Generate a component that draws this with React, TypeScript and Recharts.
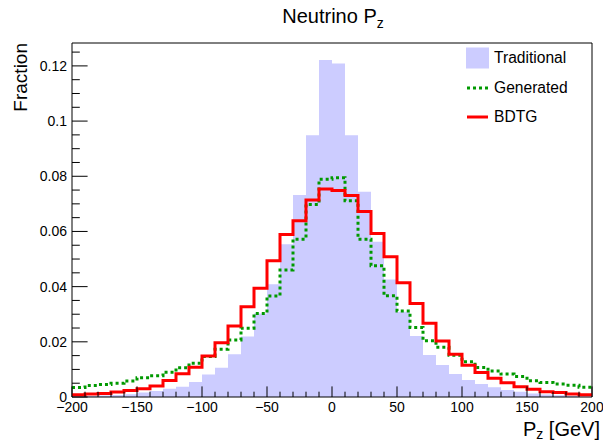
import { ComposedChart, Area, Line, XAxis, YAxis, ReferenceArea, Legend, Label } from 'recharts';

const FONT = '"Liberation Sans", Arial, Helvetica, sans-serif';

// lower bin edges, plus the upper edge of the last bin
const binEdges = [
  -200, -190, -180, -170, -160, -150, -140, -130, -120, -110,
  -100, -90, -80, -70, -60, -50, -40, -30, -20, -10,
  0, 10, 20, 30, 40, 50, 60, 70, 80, 90,
  100, 110, 120, 130, 140, 150, 160, 170, 180, 190, 200,
];

const traditional = [
  0.0003, 0.0004, 0.0005, 0.0007, 0.0010, 0.0016, 0.0022, 0.0030, 0.0037, 0.0054,
  0.0082, 0.0106, 0.0155, 0.0219, 0.0303, 0.0409, 0.0554, 0.0732, 0.0949, 0.1221,
  0.1209, 0.0949, 0.0744, 0.0563, 0.0426, 0.0309, 0.0221, 0.0152, 0.0116, 0.0083,
  0.0062, 0.0047, 0.0035, 0.0025, 0.0019, 0.0013, 0.0009, 0.0006, 0.0004, 0.0003,
];

const generated = [
  0.0034, 0.0042, 0.0045, 0.0050, 0.0058, 0.0070, 0.0077, 0.0090, 0.0106, 0.0122,
  0.0147, 0.0173, 0.0207, 0.0249, 0.0303, 0.0366, 0.0460, 0.0572, 0.0698, 0.0789,
  0.0795, 0.0711, 0.0572, 0.0476, 0.0367, 0.0312, 0.0252, 0.0204, 0.0180, 0.0151,
  0.0128, 0.0107, 0.0094, 0.0083, 0.0074, 0.0059, 0.0053, 0.0047, 0.0043, 0.0035,
];

const bdtg = [
  0.0008, 0.0011, 0.0013, 0.0018, 0.0024, 0.0030, 0.0040, 0.0060, 0.0084, 0.0108,
  0.0149, 0.0197, 0.0257, 0.0327, 0.0394, 0.0494, 0.0589, 0.0639, 0.0714, 0.0754,
  0.0748, 0.0730, 0.0672, 0.0593, 0.0508, 0.0414, 0.0339, 0.0267, 0.0203, 0.0155,
  0.0115, 0.0089, 0.0068, 0.0052, 0.0037, 0.0028, 0.0019, 0.0016, 0.0011, 0.0008,
];

const yTicks = [
  0, 0.005, 0.01, 0.015, 0.02, 0.025, 0.03, 0.035, 0.04, 0.045, 0.05, 0.055, 0.06,
  0.065, 0.07, 0.075, 0.08, 0.085, 0.09, 0.095, 0.1, 0.105, 0.11, 0.115, 0.12, 0.125,
];
const yMajor = [0, 0.02, 0.04, 0.06, 0.08, 0.1, 0.12];
const xMajor = [-200, -150, -100, -50, 0, 50, 100, 150, 200];
const Y_MAX = 0.1283;

// last row repeats the last bin so the step runs to the upper edge
const data = binEdges.map((edge, i) => {
  const k = Math.min(i, traditional.length - 1);
  return { edge, trad: traditional[k], gen: generated[k], bdtg: bdtg[k] };
});

const legendLook: Record<string, { kind: 'box' | 'line'; color: string; dash?: string }> = {
  trad: { kind: 'box', color: '#ccccff' },
  gen: { kind: 'line', color: '#009900', dash: '3 3' },
  bdtg: { kind: 'line', color: '#ff0000' },
};
const legendOrder = ['trad', 'gen', 'bdtg'];

function XTick({ x, y, payload }: any) {
  const v = payload.value;
  const major = xMajor.includes(v);
  return (
    <g>
      <line x1={x} x2={x} y1={y} y2={y - (major ? 10.6 : 5.3)} stroke="#000" />
      {major && (
        <text x={x} y={y + 15} textAnchor="middle" fontSize={14} fontFamily={FONT} fill="#000">
          {v < 0 ? `\u2212${-v}` : String(v)}
        </text>
      )}
    </g>
  );
}

function YTick({ x, y, payload }: any) {
  const v = payload.value;
  const major = yMajor.some((m) => Math.abs(m - v) < 1e-9);
  return (
    <g>
      <line x1={x} x2={x + (major ? 15.6 : 7.8)} y1={y} y2={y} stroke="#000" />
      {major && (
        <text x={x - 5} y={y + 5} textAnchor="end" fontSize={14} fontFamily={FONT} fill="#000">
          {String(Number(v.toFixed(3)))}
        </text>
      )}
    </g>
  );
}

function LegendBox({ payload }: any) {
  const items = [...(payload || [])].sort(
    (a, b) => legendOrder.indexOf(a.dataKey) - legendOrder.indexOf(b.dataKey),
  );
  return (
    <div style={{ fontFamily: FONT, fontSize: 15.6, color: '#000' }}>
      {items.map((item) => {
        const look = legendLook[item.dataKey];
        return (
          <div key={item.dataKey} style={{ display: 'flex', alignItems: 'center', height: 29.5 }}>
            <svg width={28} height={24} style={{ flex: 'none' }}>
              {look.kind === 'box' ? (
                <rect x={0} y={1.5} width={23} height={21} fill={look.color} />
              ) : (
                <line x1={1} x2={22} y1={12} y2={12} stroke={look.color} strokeWidth={3} strokeDasharray={look.dash} />
              )}
            </svg>
            <span>{item.value}</span>
          </div>
        );
      })}
    </div>
  );
}

export default function App() {
  return (
    <div style={{ position: 'relative', width: 603, height: 443 }}>
      <style>{'body { margin: 0; }'}</style>
      <ComposedChart
        width={603}
        height={443}
        data={data}
        margin={{ top: 43, right: 11, bottom: 0, left: 0 }}
      >
        <XAxis
          dataKey="edge"
          type="number"
          domain={[-200, 200]}
          allowDataOverflow
          ticks={binEdges}
          interval={0}
          tickSize={0}
          tickMargin={0}
          tickLine={false}
          axisLine={false}
          height={46}
          tick={(p: any) => <XTick {...p} />}
        >
          <Label
            content={({ viewBox }: any) => (
              <text
                x={viewBox.x + viewBox.width + 8}
                y={viewBox.y + 39}
                textAnchor="end"
                fontSize={20}
                fontFamily={FONT}
                fill="#000"
              >
                <tspan>P</tspan>
                <tspan dy={3} fontSize={14}>z</tspan>
                <tspan dy={-3}> [GeV]</tspan>
              </text>
            )}
          />
        </XAxis>
        <YAxis
          type="number"
          domain={[0, Y_MAX]}
          allowDataOverflow
          ticks={yTicks}
          interval={0}
          tickSize={0}
          tickMargin={0}
          tickLine={false}
          axisLine={false}
          width={72}
          tick={(p: any) => <YTick {...p} />}
        >
          <Label
            content={({ viewBox }: any) => (
              <text
                x={viewBox.x + 27}
                y={viewBox.y}
                transform={`rotate(-90, ${viewBox.x + 27}, ${viewBox.y})`}
                textAnchor="end"
                fontSize={19}
                fontFamily={FONT}
                fill="#000"
              >
                Fraction
              </text>
            )}
          />
        </YAxis>
        <Area
          type="stepAfter"
          dataKey="trad"
          name="Traditional"
          fill="#ccccff"
          fillOpacity={1}
          stroke="none"
          dot={false}
          activeDot={false}
          isAnimationActive={false}
        />
        <Line
          type="stepAfter"
          dataKey="gen"
          name="Generated"
          stroke="#009900"
          strokeWidth={3}
          strokeDasharray="3 3"
          dot={false}
          activeDot={false}
          isAnimationActive={false}
        />
        <Line
          type="stepAfter"
          dataKey="bdtg"
          name="BDTG"
          stroke="#ff0000"
          strokeWidth={3}
          dot={false}
          activeDot={false}
          isAnimationActive={false}
        />
        <ReferenceArea x1={-200} x2={200} y1={0} y2={Y_MAX} fill="none" stroke="#000" strokeWidth={1} />
        <Legend
          layout="vertical"
          align="center"
          verticalAlign="middle"
          wrapperStyle={{ top: 43.25, left: 466, width: 130 }}
          content={(p: any) => <LegendBox {...p} />}
        />
      </ComposedChart>
      <svg
        width={603}
        height={40}
        style={{ position: 'absolute', left: 0, top: 0, pointerEvents: 'none' }}
      >
        <text x={333} y={23} textAnchor="middle" fontSize={20} fontFamily={FONT} fill="#000">
          <tspan>Neutrino P</tspan>
          <tspan dy={5} fontSize={14}>z</tspan>
        </text>
      </svg>
    </div>
  );
}
